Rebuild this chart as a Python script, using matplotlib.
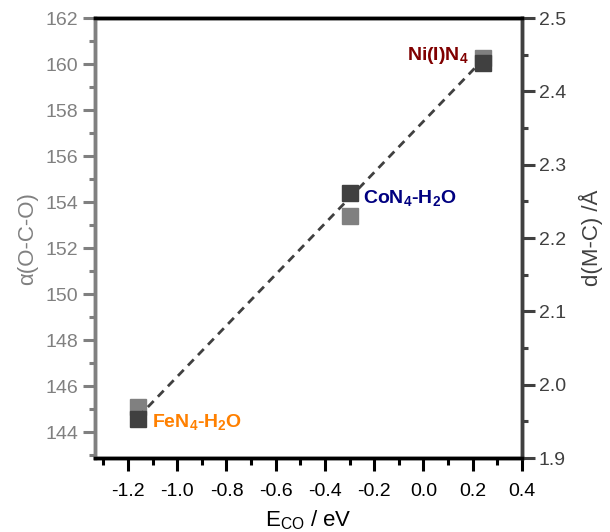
import numpy as np
import matplotlib
matplotlib.use('Agg')
from matplotlib import pyplot as plt
from matplotlib.ticker import MultipleLocator

plt.rcParams['font.family'] = ['Liberation Sans', 'DejaVu Sans']
plt.rcParams['mathtext.default'] = 'regular'

# adsorption energy of CO and the two structural descriptors
e_co = [-1.16, -0.30, 0.24]
angle_oco = [145.1, 153.4, 160.25]
dist_mc = [1.953, 2.261, 2.439]
names = ['FeN$_4$-H$_2$O', 'CoN$_4$-H$_2$O', 'Ni(I)N$_4$']
name_colors = ['#ff8000', '#000080', '#800000']

light = '#808080'
dark = '#404040'

fig = plt.figure(figsize=(6.10, 5.32), dpi=100)
ax = fig.add_axes([0.1557, 0.139, 0.7, 0.827])
ax2 = ax.twinx()

ax.plot(e_co, angle_oco, 's', color=light, markersize=12, zorder=3)

# linear fit through the M-C distances
k, b = np.polyfit(e_co, dist_mc, 1)
xf = np.array([min(e_co), max(e_co)])
ax2.plot(xf, k * xf + b, '--', color=dark, lw=2, dashes=(3, 2.2), zorder=2)
ax2.plot(e_co, dist_mc, 's', color=dark, markersize=12, zorder=3)

ax.set_xlim(-1.334, 0.4)
ax.set_ylim(142.87, 162)
ax2.set_ylim(1.9, 2.5)

ax.xaxis.set_major_locator(MultipleLocator(0.2))
ax.xaxis.set_minor_locator(MultipleLocator(0.1))
ax.yaxis.set_major_locator(MultipleLocator(2))
ax.yaxis.set_minor_locator(MultipleLocator(1))
ax2.yaxis.set_major_locator(MultipleLocator(0.1))
ax2.yaxis.set_minor_locator(MultipleLocator(0.05))
ax.xaxis.set_major_formatter(matplotlib.ticker.FuncFormatter(lambda v, p: '%.1f' % v))

ax.tick_params(axis='x', which='major', direction='out', length=9, width=2.2,
               color='black', labelsize=14, pad=9)
ax.tick_params(axis='x', which='minor', direction='out', length=5, width=2.2, color='black')
ax.tick_params(axis='y', which='major', direction='out', length=9, width=2.2,
               color=light, labelcolor=light, labelsize=14, pad=3)
ax.tick_params(axis='y', which='minor', direction='out', length=4, width=2.2, color=light)
ax2.tick_params(axis='y', which='major', direction='out', length=9, width=2.2,
                color=dark, labelcolor=dark, labelsize=14, pad=3)
ax2.tick_params(axis='y', which='minor', direction='out', length=4, width=2.2, color=dark)

for a in (ax, ax2):
    a.spines['top'].set_color('black')
    a.spines['top'].set_linewidth(2.5)
    a.spines['bottom'].set_color('black')
    a.spines['bottom'].set_linewidth(2.5)
    a.spines['left'].set_color(light)
    a.spines['left'].set_linewidth(2.5)
    a.spines['right'].set_color(dark)
    a.spines['right'].set_linewidth(2.5)

ax.set_xlabel('E$_{CO}$ / eV', fontsize=16, labelpad=6)
ax.set_ylabel('\u03b1(O-C-O)', fontsize=16, color=light, labelpad=5)
ax2.set_ylabel('d(M-C) /\u00c5', fontsize=16, color=dark, labelpad=9)

offsets = [(10, -2), (10, -3), (-10, 5)]
aligns = ['left', 'left', 'right']
for x, y, n, c, off, ha in zip(e_co, dist_mc, names, name_colors, offsets, aligns):
    ax2.annotate(n, (x, y), xytext=off, textcoords='offset points', ha=ha, va='center',
                 color=c, fontsize=14, fontweight='bold')

fig.savefig('out.png', dpi=100)
